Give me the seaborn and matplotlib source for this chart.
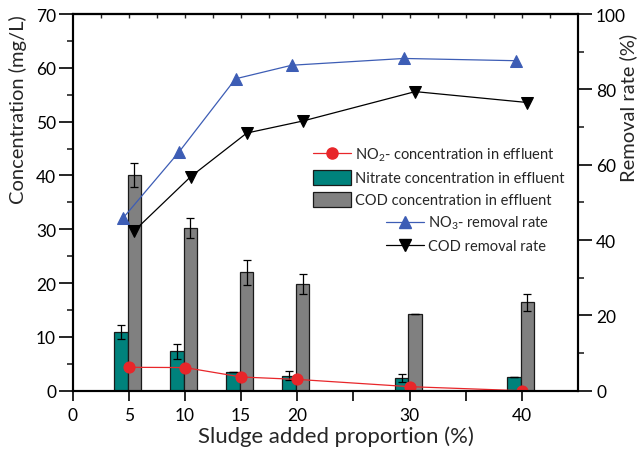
import numpy as np
import pandas as pd
import seaborn as sns
import matplotlib
matplotlib.use("Agg")
import matplotlib.pyplot as plt
from matplotlib.patches import Patch
from matplotlib.lines import Line2D

# ---------------- data ----------------
proportion = [5, 10, 15, 20, 30, 40]
nitrate = [10.9, 7.3, 3.5, 2.8, 2.4, 2.5]
nitrate_err = [1.3, 1.4, 0.0, 0.85, 0.75, 0.0]
cod = [40.1, 30.2, 22.0, 19.8, 14.3, 16.4]
cod_err = [2.2, 1.9, 2.3, 1.8, 0.0, 1.6]
no2 = [4.35, 4.3, 2.55, 2.1, 0.75, 0.0]
no3_removal = [45.9, 63.5, 82.8, 86.4, 88.2, 87.6]
cod_removal = [42.5, 56.8, 68.4, 71.6, 79.4, 76.5]
x_ticks = [0, 5, 10, 15, 20, 25, 30, 35, 40]
x_ticklabels = ["0", "5", "10", "15", "20", "", "30", "", "40"]

sns.set_theme(style="ticks")
FONT = "Lato"
plt.rcParams["font.family"] = [FONT, "DejaVu Sans"]
plt.rcParams["mathtext.fontset"] = "custom"
plt.rcParams["mathtext.rm"] = FONT
plt.rcParams["mathtext.it"] = FONT
plt.rcParams["mathtext.bf"] = FONT

df = pd.DataFrame({"p": proportion, "nitrate": nitrate, "cod": cod, "no2": no2,
                   "no3r": no3_removal, "codr": cod_removal})
xs = np.array(proportion, dtype=float)

W, H = 638, 452
fig = plt.figure(figsize=(W / 100, H / 100), dpi=100)
ax = fig.add_axes([0.114, 0.1334, 0.792, 0.8334])
ax2 = ax.twinx()

TEAL = "#00827c"
GRAY = "#808080"
RED = "#e8262a"
BLUE = "#3d5db5"

bw = 1.2
ekw = dict(ecolor="black", elinewidth=0.9, capsize=3, capthick=0.9)
ax.bar(xs - 0.72, df["nitrate"], width=bw, color=TEAL, edgecolor="#1a1a1a", linewidth=0.9,
       yerr=nitrate_err, error_kw=ekw, zorder=2)
ax.bar(xs + 0.48, df["cod"], width=bw, color=GRAY, edgecolor="#1a1a1a", linewidth=0.9,
       yerr=cod_err, error_kw=ekw, zorder=2)

sns.lineplot(x=df["p"], y=df["no2"], ax=ax, color=RED, linewidth=0.9, marker="o",
             markersize=8, markeredgecolor=RED, zorder=3, legend=False)
sns.lineplot(x=df["p"] - 0.5, y=df["no3r"], ax=ax2, color=BLUE, linewidth=0.9, marker="^",
             markersize=9, markeredgecolor=BLUE, legend=False)
sns.lineplot(x=df["p"] + 0.5, y=df["codr"], ax=ax2, color="black", linewidth=0.9, marker="v",
             markersize=9, markeredgecolor="black", legend=False)

ax.set_xlim(0, 45)
ax.set_ylim(0, 70)
ax2.set_ylim(0, 100)
ax.set_xticks(x_ticks)
ax.set_xticklabels(x_ticklabels)
ax.set_yticks(np.arange(0, 71, 10))
ax.set_yticks(np.arange(5, 70, 10), minor=True)
ax2.set_yticks(np.arange(0, 101, 20))
ax2.set_yticks(np.arange(10, 100, 20), minor=True)

top = ax.secondary_xaxis("top")
top.set_xticks(np.arange(2.5, 45, 2.5))
top.tick_params(direction="in", length=3, width=1, labeltop=False)
top.spines["top"].set_linewidth(1.5)

for a in (ax, ax2):
    for s in a.spines.values():
        s.set_linewidth(1.5)
        s.set_color("black")
ax.tick_params(axis="x", which="major", direction="out", length=7, width=1.2,
               labelsize=12.5, colors="black", pad=5)
ax.tick_params(axis="y", which="major", direction="out", length=10, width=1.2,
               labelsize=12.5, colors="black", pad=2)
ax.tick_params(axis="y", which="minor", direction="out", length=4, width=1.2)
ax2.tick_params(axis="y", which="major", direction="out", length=10, width=1.2,
                labelsize=12.5, colors="black", pad=3)
ax2.tick_params(axis="y", which="minor", direction="out", length=4, width=1.2)

xl = ax.set_xlabel("Sludge added proportion (%)", fontsize=16)
yl = ax.set_ylabel("Concentration (mg/L)", fontsize=14)
yr = ax2.set_ylabel("Removal rate (%)", fontsize=14)

# fit label sizes to the lengths seen in the reference (pixels)
fig.canvas.draw()
r = fig.canvas.get_renderer()
for t, target, vertical in ((xl, 278, False), (yl, 190, True), (yr, 149, True)):
    bb = t.get_window_extent(r)
    cur = bb.height if vertical else bb.width
    t.set_fontsize(t.get_fontsize() * target / cur)

def ax_coords(px, py):
    return ((px - 0.114 * W) / (0.792 * W), ((H - py) - 0.1334 * H) / (0.8334 * H))

for t in (xl, yl, yr):
    t.set_verticalalignment("center")
    t.set_horizontalalignment("center")
ax.xaxis.set_label_coords(*ax_coords(336, 437))
ax.yaxis.set_label_coords(*ax_coords(18, 110))
ax2.yaxis.set_label_coords(*ax_coords(628, 108))

h1 = [Line2D([], [], color=RED, marker="o", markersize=8, linewidth=0.9),
      Patch(facecolor=TEAL, edgecolor="#1a1a1a", linewidth=0.9),
      Patch(facecolor=GRAY, edgecolor="#1a1a1a", linewidth=0.9)]
l1 = ["NO$_2$- concentration in effluent", "Nitrate concentration in effluent",
      "COD concentration in effluent"]
leg1 = ax2.legend(h1, l1, loc="upper left", bbox_to_anchor=(313 / W, 1 - 147 / H),
                  bbox_transform=fig.transFigure, frameon=False, fontsize=10.5,
                  handlelength=2.6, handleheight=1.3, handletextpad=0.3, labelspacing=0.42,
                  borderpad=0, borderaxespad=0)
ax2.add_artist(leg1)
h2 = [Line2D([], [], color=BLUE, marker="^", markersize=8, linewidth=0.9),
      Line2D([], [], color="black", marker="v", markersize=8, linewidth=0.9)]
l2 = ["NO$_3$- removal rate", "COD removal rate"]
ax2.legend(h2, l2, loc="upper left", bbox_to_anchor=(386 / W, 1 - 215 / H),
           bbox_transform=fig.transFigure, frameon=False, fontsize=10.5,
           handlelength=2.6, handletextpad=0.3, labelspacing=0.55,
           borderpad=0, borderaxespad=0)

fig.savefig("out.png", dpi=100)
